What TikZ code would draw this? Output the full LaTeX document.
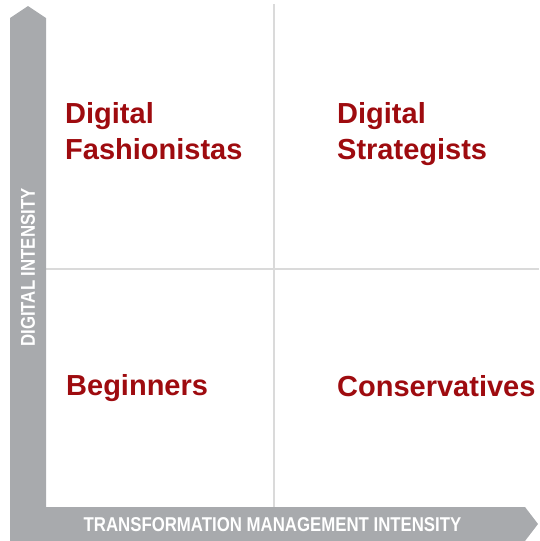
\documentclass[tikz,border=0pt]{standalone}
\usepackage{fontspec}
\setmainfont{Liberation Sans}
\usepackage{tikz}
\usetikzlibrary{positioning}

\definecolor{axisgray}{HTML}{A8AAAD}
\definecolor{gridgray}{HTML}{DADADA}
\definecolor{quadred}{HTML}{9E0B0F}

\tikzset{
	quadrant/.style={anchor=base west, align=left, text=quadred, inner sep=0pt,
		font=\fontsize{29}{36}\selectfont\bfseries},
	axislabel/.style={text=white, inner sep=0pt, xscale=0.84,
		font=\fontsize{20}{22}\selectfont\bfseries}
}

\begin{document}
\begin{tikzpicture}[x=1pt, y=-1pt]
		\useasboundingbox (0, 0) rectangle (539, 541);
		% grid lines
		\draw[gridgray, line width=2pt] (274, 4) -- (274, 507);
		\draw[gridgray, line width=2pt] (46, 269) -- (539, 269);
		% the two axes as one arrow-shaped band
		\fill[axisgray] (10, 541) -- (10, 18) -- (28, 6) -- (46, 18) -- (46, 507) -- (525, 507) -- (538, 524) -- (525, 541) -- (10, 541);
		\node[axislabel] (xlabel) at (272.5, 525) {TRANSFORMATION MANAGEMENT INTENSITY};
		\node[rotate=90, axislabel] (ylabel) at (28, 267.5) {DIGITAL INTENSITY};
		% quadrant names (base is the last line)
		\node[quadrant] (fashion) at (65, 159) {Digital\\Fashionistas};
		\node[quadrant] (strat) at (337, 159) {Digital\\Strategists};
		\node[quadrant] (begin) at (66, 395) {Beginners};
		\node[quadrant] (conserv) at (337, 396) {Conservatives};
		\end{tikzpicture}
\end{document}
